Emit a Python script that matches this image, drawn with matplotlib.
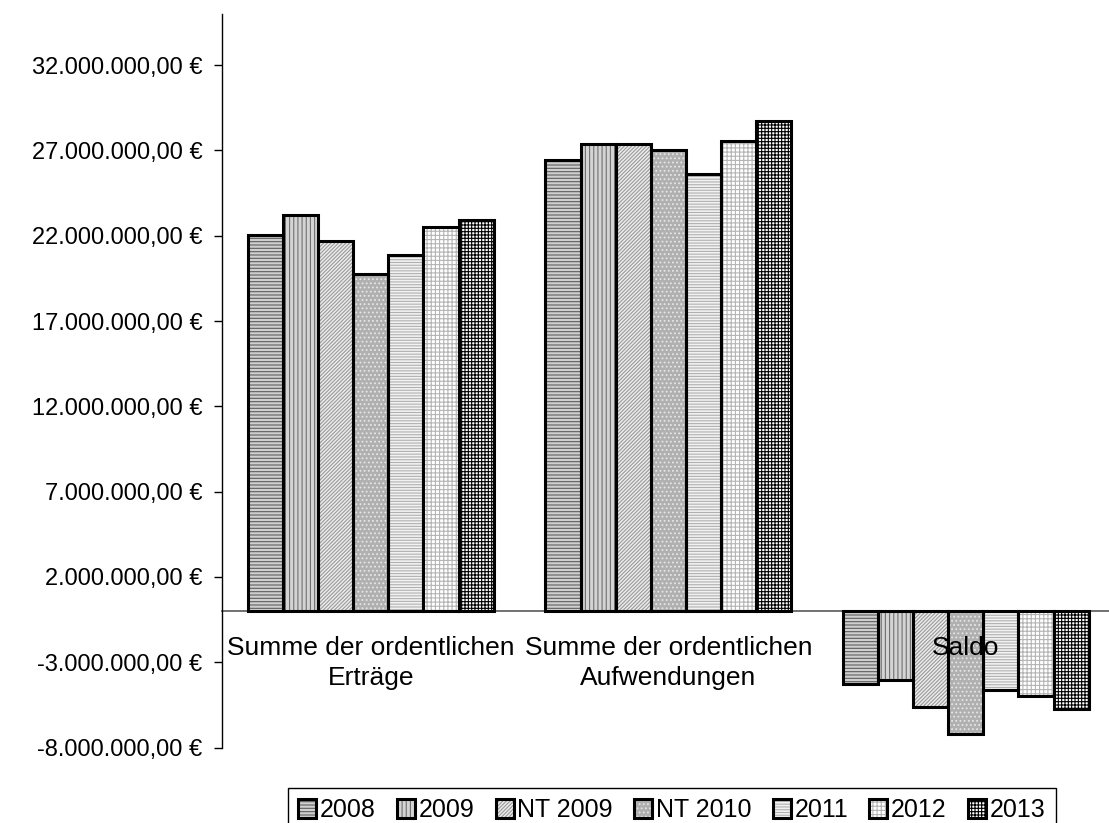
import numpy as np
import matplotlib
matplotlib.use('Agg')
import matplotlib.pyplot as plt
from matplotlib.ticker import FuncFormatter
from matplotlib.legend_handler import HandlerTuple

plt.rcParams['font.family'] = ['Liberation Sans', 'DejaVu Sans']
plt.rcParams['hatch.linewidth'] = 0.8

# Haushaltsdaten in Mio. Euro
kategorien = ['Summe der ordentlichen\nErträge', 'Summe der ordentlichen\nAufwendungen', 'Saldo']
jahre = ['2008', '2009', 'NT 2009', 'NT 2010', '2011', '2012', '2013']
ertraege = [22.05, 23.2, 21.67, 19.75, 20.9, 22.5, 22.95]
aufwendungen = [26.45, 27.37, 27.39, 27.02, 25.6, 27.57, 28.72]
saldo = [-4.3, -4.05, -5.6, -7.2, -4.6, -4.95, -5.72]

werte = np.array([ertraege, aufwendungen, saldo]) * 1e6

# Muster je Jahr: Füllfarbe, Schraffurfarbe, Schraffur
muster = [
    ('#cfcfcf', '#5e5e5e', '-----'),
    ('#d4d4d4', '#707070', '||||'),
    ('#ececec', '#9a9a9a', '/////////'),
    ('#b0b0b0', '#e6e6e6', '....'),
    ('#f2f2f2', '#b0b0b0', '------'),
    ('#ffffff', '#b4b4b4', '++++'),
    ('#ffffff', '#000000', '+++++'),
]


def euro(v, pos):
    s = f'{v:,.2f}'.replace(',', 'X').replace('.', ',').replace('X', '.')
    return s + ' €'


fig = plt.figure(figsize=(11.09, 8.23), dpi=100)
ax = fig.add_axes([0.2002, 1 - 747.6 / 823, 892.5 / 1109, (747.6 - 14) / 823])

x = np.arange(len(kategorien))
breite = 0.118
handles = []
for j, jahr in enumerate(jahre):
    fc, hc, hatch = muster[j]
    pos = x + (j - 3) * breite
    fill = ax.bar(pos, werte[:, j], breite, color=fc, edgecolor=hc, hatch=hatch,
                  linewidth=0, zorder=2)
    rand = ax.bar(pos, werte[:, j], breite, fill=False, edgecolor='black',
                  linewidth=2.2, zorder=3)
    handles.append((fill[0], rand[0]))

ax.set_xlim(-0.5, 2.5)
ax.set_ylim(-8e6, 35e6)
ax.set_yticks(np.arange(-8e6, 33e6, 5e6))
ax.yaxis.set_major_formatter(FuncFormatter(euro))
ax.tick_params(axis='y', labelsize=17, length=6, width=1, pad=8, direction='out')
ax.set_xticks([])

for s in ['top', 'right', 'bottom']:
    ax.spines[s].set_visible(False)
ax.spines['left'].set_linewidth(1)
ax.axhline(0, color='#666666', linewidth=1.3, zorder=1, clip_on=False)

for i, k in enumerate(kategorien):
    ax.annotate(k, (i, 0), xytext=(0, -18), textcoords='offset points',
                ha='center', va='top', fontsize=19, linespacing=1.3, zorder=4)

leg = fig.legend(handles, jahre, loc='upper left', ncol=7,
                 bbox_to_anchor=(288 / 1109, 1 - 788 / 823), borderaxespad=0,
                 handler_map={tuple: HandlerTuple(ndivide=1)},
                 fontsize=18, handlelength=0.72, handleheight=0.8,
                 handletextpad=0.15, columnspacing=0.85, borderpad=0.4,
                 fancybox=False, edgecolor='black', framealpha=1)
leg.get_frame().set_linewidth(1)

fig.savefig('out.png', dpi=100)
